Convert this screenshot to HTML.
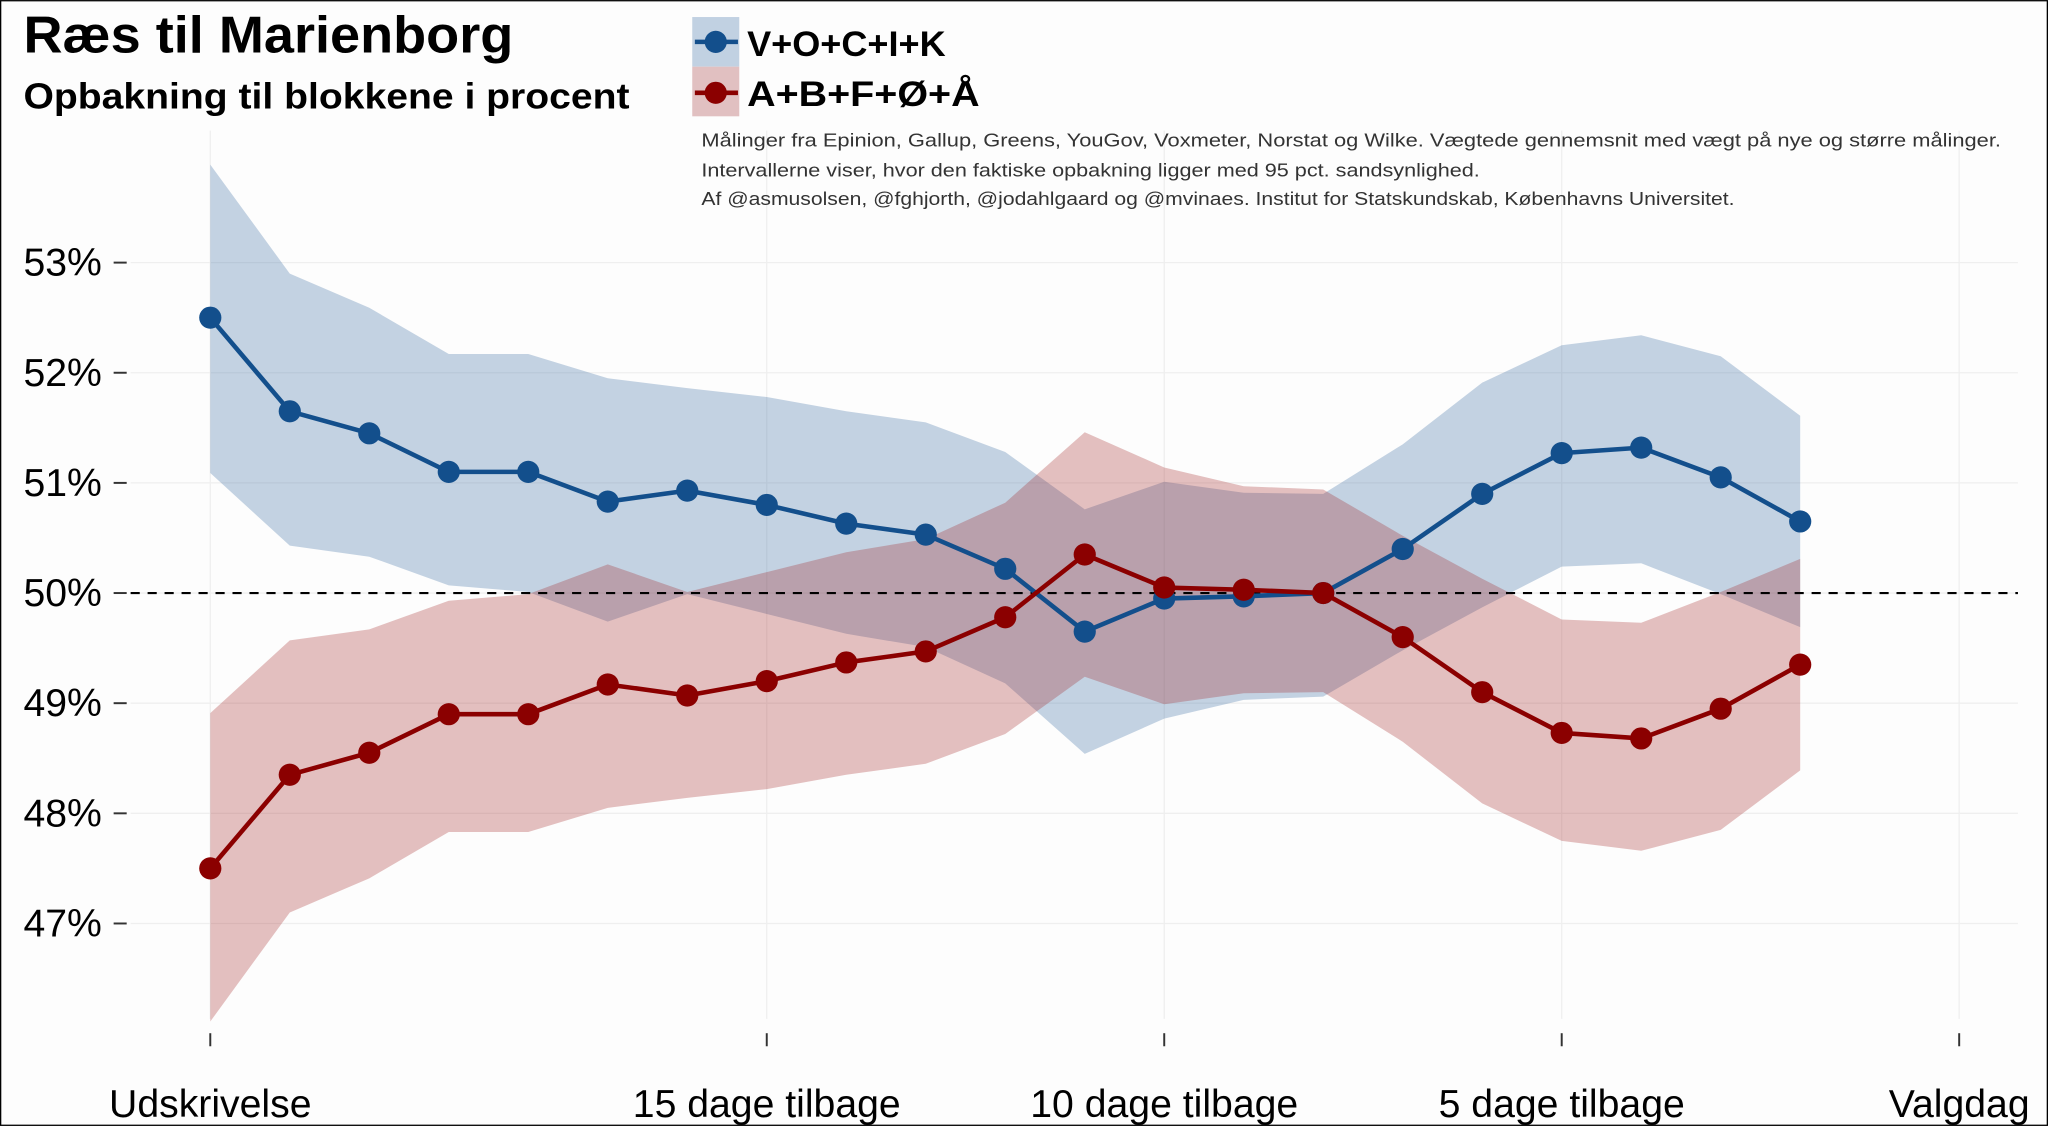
<!DOCTYPE html>
<html><head><meta charset="utf-8"><style>
html,body{margin:0;padding:0;background:#fff}
svg{display:block;font-family:"Liberation Sans",sans-serif}
</style></head><body>
<svg id="chart" width="2048" height="1126" viewBox="0 0 1568 862" xmlns="http://www.w3.org/2000/svg">
<rect x="0.5" y="0.5" width="1567" height="861" fill="#fdfdfd" stroke="#000" stroke-width="1"/>
<g id="grid"></g>
<g id="bands"></g>
<line id="ref50" x1="100" x2="1545" stroke="#000" stroke-width="1.6" stroke-dasharray="7,6"/>
<g id="series"></g>
<g id="axes"></g>
<text x="18" y="40" font-size="40" font-weight="bold" textLength="375" lengthAdjust="spacingAndGlyphs">Ræs til Marienborg</text>
<text x="18" y="83" font-size="28" font-weight="bold" textLength="464" lengthAdjust="spacingAndGlyphs">Opbakning til blokkene i procent</text>
<g>
<g>
<rect x="530" y="13" width="36" height="38" fill="#c1d1e2"/>
<line x1="532" x2="565" y1="32" y2="32" stroke="#134f8c" stroke-width="3.5"/>
<circle cx="548" cy="32" r="8.5" fill="#134f8c"/>
<text x="572" y="43" font-size="27" font-weight="bold" textLength="152" lengthAdjust="spacingAndGlyphs">V+O+C+I+K</text>
</g>
<g>
<rect x="530" y="51" width="36" height="38" fill="#e1c0c1"/>
<line x1="532" x2="565" y1="71" y2="71" stroke="#8b0000" stroke-width="3.5"/>
<circle cx="548" cy="71" r="8.5" fill="#8b0000"/>
<text x="572" y="81" font-size="27" font-weight="bold" textLength="178" lengthAdjust="spacingAndGlyphs">A+B+F+Ø+Å</text>
</g>
</g>
<g font-size="14" fill="#333">
<text x="537" y="112" textLength="995" lengthAdjust="spacingAndGlyphs">Målinger fra Epinion, Gallup, Greens, YouGov, Voxmeter, Norstat og Wilke. Vægtede gennemsnit med vægt på nye og større målinger.</text>
<text x="537" y="135" textLength="596" lengthAdjust="spacingAndGlyphs">Intervallerne viser, hvor den faktiske opbakning ligger med 95 pct. sandsynlighed.</text>
<text x="537" y="157" textLength="791" lengthAdjust="spacingAndGlyphs">Af @asmusolsen, @fghjorth, @jodahlgaard og @mvinaes. Institut for Statskundskab, Københavns Universitet.</text>
</g>
<script>
const days = [22,21,20,19,18,17,16,15,14,13,12,11,10,9,8,7,6,5,4,3,2];
const blueValues = [52.5,51.65,51.45,51.1,51.1,50.83,50.93,50.8,50.63,50.53,50.22,49.65,49.95,49.97,50.0,50.4,50.9,51.27,51.32,51.05,50.65];
const blueUpper = [53.89,52.9,52.59,52.17,52.17,51.95,51.86,51.78,51.65,51.55,51.28,50.76,51.01,50.91,50.9,51.35,51.91,52.25,52.34,52.15,51.61];
const blueLower = [51.09,50.43,50.33,50.07,50.01,49.74,49.99,49.81,49.63,49.51,49.18,48.54,48.86,49.03,49.06,49.48,49.87,50.24,50.27,49.99,49.69];
const redValues = [47.5,48.35,48.55,48.9,48.9,49.17,49.07,49.2,49.37,49.47,49.78,50.35,50.05,50.03,50.0,49.6,49.1,48.73,48.68,48.95,49.35];
const redUpper = [48.91,49.57,49.67,49.93,49.99,50.26,50.01,50.19,50.37,50.49,50.82,51.46,51.14,50.97,50.94,50.52,50.13,49.76,49.73,50.01,50.31];
const redLower = [46.11,47.1,47.41,47.83,47.83,48.05,48.14,48.22,48.35,48.45,48.72,49.24,48.99,49.09,49.1,48.65,48.09,47.75,47.66,47.85,48.39];
const yTicks = [47,48,49,50,51,52,53];
const xTicks = [22,15,10,5,0];
const xTickLabels = ["Udskrivelse","15 dage tilbage","10 dage tilbage","5 dage tilbage","Valgdag"];

const NS="http://www.w3.org/2000/svg";
const xs = d => 1500 - d*(1500-161)/22;
const ys = v => 454 - (v-50)*84.33;
function mk(tag, attrs, parent){const e=document.createElementNS(NS,tag);for(const k in attrs)e.setAttribute(k,attrs[k]);parent.appendChild(e);return e;}
const grid=document.getElementById('grid'), bands=document.getElementById('bands'), series=document.getElementById('series'), axes=document.getElementById('axes');
yTicks.forEach(t=>{
  const l=mk('line',{x1:100,x2:1545,y1:ys(t),y2:ys(t),stroke:'#efefef','stroke-width':1},grid);
  
  
  const tk=mk('line',{x1:87,x2:97,y1:ys(t),y2:ys(t),stroke:'#333','stroke-width':1.5},axes);
  
  
  const tx=mk('text',{x:78,y:ys(t)+10,'font-size':30,'text-anchor':'end'},axes);
  tx.textContent=t+'%';
  
  
});
xTicks.forEach((d,i)=>{
  const l=mk('line',{x1:xs(d),x2:xs(d),y1:100,y2:780,stroke:'#efefef','stroke-width':1},grid);
  
  
  const tk=mk('line',{x1:xs(d),x2:xs(d),y1:791,y2:801,stroke:'#333','stroke-width':1.5},axes);
  
  
  const tx=mk('text',{x:xs(d),y:855,'font-size':30,'text-anchor':'middle'},axes);
  tx.textContent=xTickLabels[i];
  
  
});
const r=document.getElementById('ref50'); r.setAttribute('y1',ys(50)); r.setAttribute('y2',ys(50));
function band(up,lo,fill,name){
  let p=days.map((d,i)=>xs(d)+','+ys(up[i]));
  for(let i=days.length-1;i>=0;i--)p.push(xs(days[i])+','+ys(lo[i]));
  const e=mk('polygon',{points:p.join(' '),fill:fill,'fill-opacity':0.27},bands);
  
  
}
band(blueUpper,blueLower,'rgb(40,95,155)','blue-confidence-band');
band(redUpper,redLower,'rgb(160,25,25)','red-confidence-band');
function line(vals,col,name){
  const e=mk('polyline',{points:days.map((d,i)=>xs(d)+','+ys(vals[i])).join(' '),fill:'none',stroke:col,'stroke-width':3.5,'stroke-linejoin':'round'},series);
  
  
  days.forEach((d,i)=>{
    const c=mk('circle',{cx:xs(d),cy:ys(vals[i]),r:8.5,fill:col},series);
    
    
  });
}
line(blueValues,'#134f8c','blue');
line(redValues,'#8b0000','red');
</script>
</svg>
</body></html>
